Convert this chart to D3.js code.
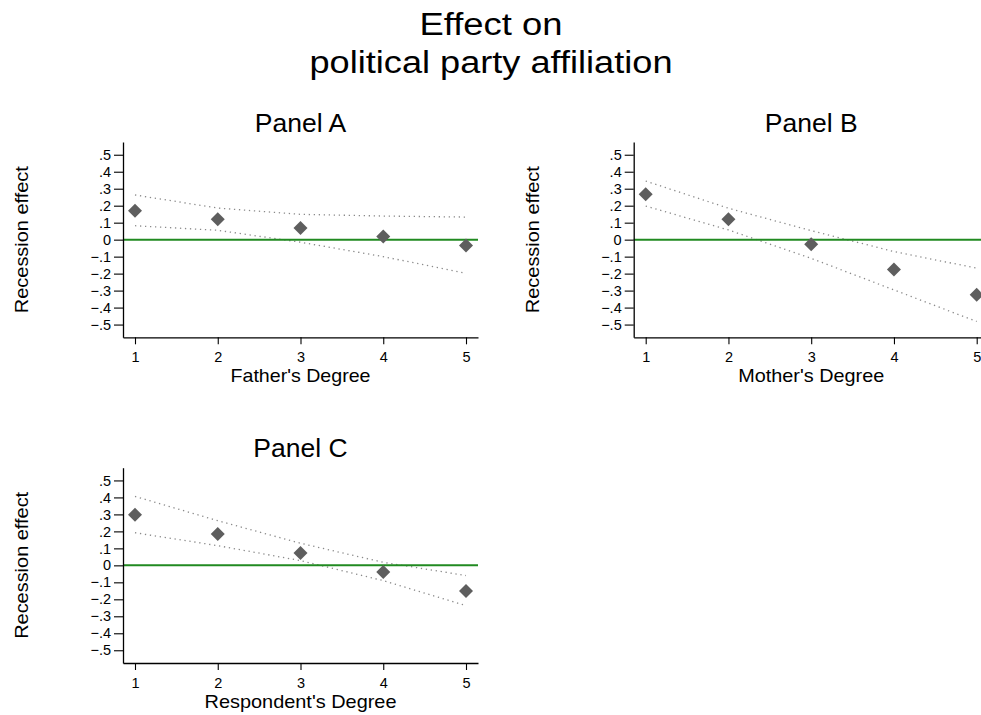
<!DOCTYPE html>
<html>
<head>
<meta charset="utf-8">
<script src="https://cdn.jsdelivr.net/npm/d3@7"></script>
<style>
  body { margin: 0; background: #fff; }
  svg { display: block; }
  text { font-family: "Liberation Sans", Arial, Helvetica, sans-serif; fill: #000; }
</style>
</head>
<body>
<script>
// degree levels on the x axis
var degrees = [1, 2, 3, 4, 5];
var yTicks = [-0.5, -0.4, -0.3, -0.2, -0.1, 0, 0.1, 0.2, 0.3, 0.4, 0.5];

// Panel A - father's degree
var fatherEst = [0.170, 0.120, 0.069, 0.018, -0.035];
var fatherHi  = [0.263, 0.186, 0.149, 0.139, 0.133];
var fatherLo  = [0.082, 0.055, -0.015, -0.100, -0.198];

// Panel B - mother's degree
var motherEst = [0.267, 0.120, -0.027, -0.176, -0.325];
var motherHi  = [0.345, 0.185, 0.053, -0.070, -0.168];
var motherLo  = [0.198, 0.057, -0.110, -0.296, -0.482];

// Panel C - respondent's degree
var respEst = [0.298, 0.185, 0.073, -0.039, -0.151];
var respHi  = [0.406, 0.263, 0.130, 0.018, -0.060];
var respLo  = [0.192, 0.116, 0.028, -0.090, -0.237];

var panelTitles = ["Panel A", "Panel B", "Panel C"];
var xLabels = ["Father's Degree", "Mother's Degree", "Respondent's Degree"];
var yLabel = "Recession effect";
var mainTitle = ["Effect on", "political party affiliation"];

var W = 981, H = 715;
var pw = 355, ph = 195.3;

var svg = d3.select("body").append("svg")
    .attr("width", W)
    .attr("height", H);

// title, stretched a bit to match the original's wide Helvetica
svg.append("text")
    .attr("x", 491).attr("y", 35)
    .attr("text-anchor", "middle")
    .style("font-size", "31px")
    .attr("textLength", 143).attr("lengthAdjust", "spacingAndGlyphs")
    .text(mainTitle[0]);
svg.append("text")
    .attr("x", 491).attr("y", 72.5)
    .attr("text-anchor", "middle")
    .style("font-size", "31px")
    .attr("textLength", 363).attr("lengthAdjust", "spacingAndGlyphs")
    .text(mainTitle[1]);

var panels = [
  {left: 123,   top: 142,   est: fatherEst, hi: fatherHi, lo: fatherLo, xw: 140},
  {left: 633.7, top: 142,   est: motherEst, hi: motherHi, lo: motherLo, xw: 146},
  {left: 123,   top: 467.7, est: respEst,   hi: respHi,   lo: respLo,   xw: 192}
];

function fmtTick(d) {
  if (Math.abs(d) < 1e-9) return "0";
  return d3.format(".1f")(d).replace("0.", ".");
}

panels.forEach(function(p, i) {
  var g = svg.append("g")
      .attr("transform", "translate(" + p.left + "," + p.top + ")");

  var x = d3.scaleLinear().domain([0.855, 5.145]).range([0, pw]);
  var y = d3.scaleLinear().domain([-0.575, 0.575]).range([ph, 0]);

  // confidence bands (dotted)
  var line = d3.line()
      .x(function(d) { return x(d[0]); })
      .y(function(d) { return y(d[1]); });

  [p.hi, p.lo].forEach(function(band) {
    g.append("path")
        .datum(degrees.map(function(dg, j) { return [dg, band[j]]; }))
        .attr("d", line)
        .attr("fill", "none")
        .attr("stroke", "#8a8a8a")
        .attr("stroke-width", 1.3)
        .attr("stroke-dasharray", "1.3,3.7");
  });

  // zero line
  g.append("line")
      .attr("x1", 0).attr("x2", pw)
      .attr("y1", y(0)).attr("y2", y(0))
      .attr("stroke", "#218a21")
      .attr("stroke-width", 2);

  // point estimates as diamonds
  var diamond = d3.symbol().type(d3.symbolSquare).size(98);
  g.selectAll(".pt")
      .data(degrees)
      .enter().append("path")
      .attr("class", "pt")
      .attr("d", diamond)
      .attr("transform", function(d, j) {
        return "translate(" + x(d) + "," + y(p.est[j]) + ") rotate(45)";
      })
      .attr("fill", "#5e5e5e");

  // axes
  var ya = g.append("g")
      .call(d3.axisLeft(y).tickValues(yTicks).tickFormat(fmtTick)
            .tickSize(9).tickSizeOuter(0).tickPadding(3));
  var xa = g.append("g")
      .attr("transform", "translate(0," + ph + ")")
      .call(d3.axisBottom(x).tickValues(degrees).tickFormat(d3.format("d"))
            .tickSize(7).tickSizeOuter(0).tickPadding(7.4));

  [ya, xa].forEach(function(a) {
    a.select(".domain").attr("stroke", "#000").attr("stroke-width", 1.3);
    a.selectAll(".tick line").attr("stroke", "#000").attr("stroke-width", 1.1);
    a.selectAll(".tick text")
        .style("font-family", '"Liberation Sans", Arial, Helvetica, sans-serif')
        .style("font-size", "14.5px")
        .attr("fill", "#000");
  });

  // panel title
  g.append("text")
      .attr("x", pw / 2).attr("y", -10.5)
      .attr("text-anchor", "middle")
      .style("font-size", "26.5px")
      .text(panelTitles[i]);

  // x axis label
  g.append("text")
      .attr("x", pw / 2).attr("y", ph + 240 - 195.3)
      .attr("text-anchor", "middle")
      .style("font-size", "17.7px")
      .attr("textLength", p.xw).attr("lengthAdjust", "spacingAndGlyphs")
      .text(xLabels[i]);

  // y axis label
  g.append("text")
      .attr("transform", "translate(-94.6," + (ph / 2) + ") rotate(-90)")
      .attr("text-anchor", "middle")
      .style("font-size", "17.7px")
      .attr("textLength", 147).attr("lengthAdjust", "spacingAndGlyphs")
      .text(yLabel);
});
</script>
</body>
</html>
